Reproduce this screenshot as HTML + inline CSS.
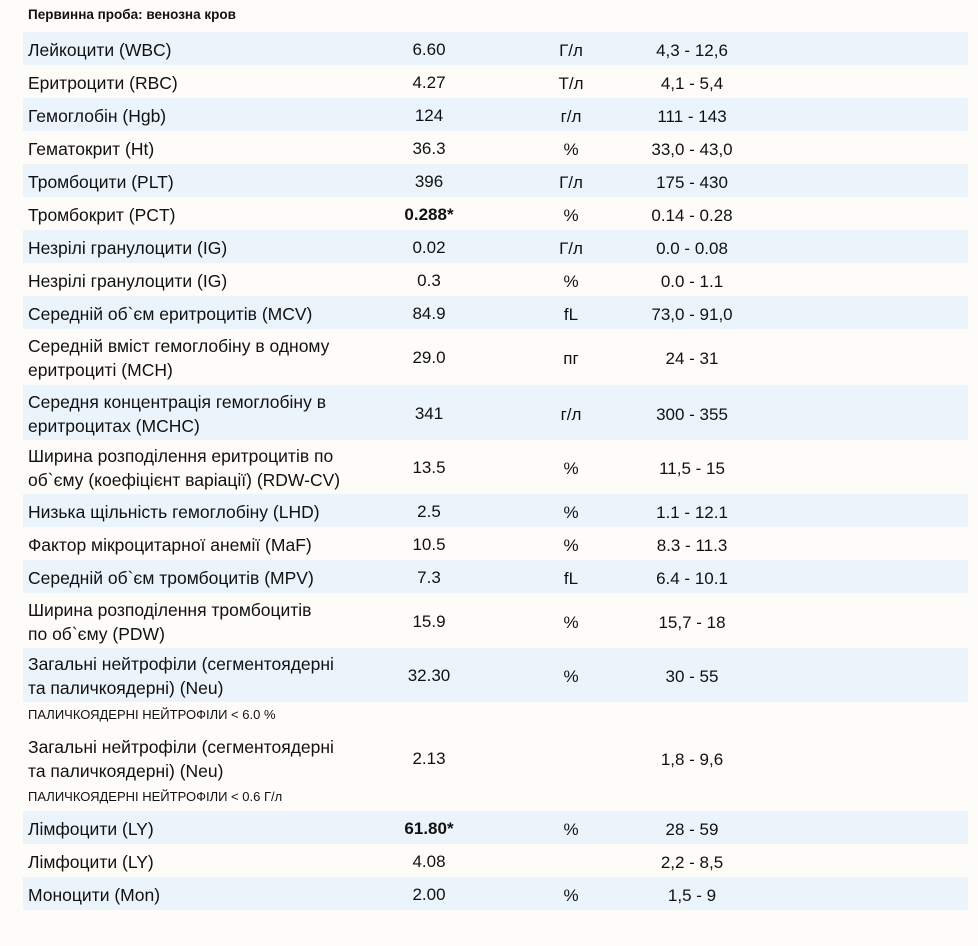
<!DOCTYPE html>
<html><head><meta charset="utf-8"><style>
body{margin:0;width:978px;height:946px;background:#fdfcf9;font-family:"Liberation Sans",sans-serif;color:#111;position:relative;overflow:hidden}
.r{position:absolute;left:23px;width:945px}
.s{background:#ebf4fb}
.n{position:absolute;left:5px;font-size:17.5px;line-height:24px;white-space:nowrap}
.v,.u,.g{position:absolute;font-size:17px;width:140px;text-align:center;line-height:20px}
.v{left:336px}.u{left:478px}.g{left:599px}
.note{position:absolute;left:28px;font-size:13px}
</style></head><body>
<div style="position:absolute;left:28px;top:7px;font-size:13.5px;font-weight:bold">Первинна проба: венозна кров</div>
<div id="t"></div>
<script>
var rows=[
[32,33,1,"Лейкоцити (WBC)","6.60","Г/л","4,3 - 12,6"],
[65,33,0,"Еритроцити (RBC)","4.27","Т/л","4,1 - 5,4"],
[98,33,1,"Гемоглобін (Hgb)","124","г/л","111 - 143"],
[131,33,0,"Гематокрит (Ht)","36.3","%","33,0 - 43,0"],
[164,33,1,"Тромбоцити (PLT)","396","Г/л","175 - 430"],
[197,33,0,"Тромбокрит (PCT)","<b>0.288*</b>","%","0.14 - 0.28"],
[230,33,1,"Незрілі гранулоцити (IG)","0.02","Г/л","0.0 - 0.08"],
[263,33,0,"Незрілі гранулоцити (IG)","0.3","%","0.0 - 1.1"],
[296,33,1,"Середній об`єм еритроцитів (MCV)","84.9","fL","73,0 - 91,0"],
[329,56,0,"Середній вміст гемоглобіну в одному<br>еритроциті (MCH)","29.0","пг","24 - 31"],
[385,55,1,"Середня концентрація гемоглобіну в<br>еритроцитах (MCHC)","341","г/л","300 - 355"],
[440,54,0,"Ширина розподілення еритроцитів по<br>об`єму (коефіцієнт варіації) (RDW-CV)","13.5","%","11,5 - 15"],
[494,33,1,"Низька щільність гемоглобіну (LHD)","2.5","%","1.1 - 12.1"],
[527,33,0,"Фактор мікроцитарної анемії (MaF)","10.5","%","8.3 - 11.3"],
[560,33,1,"Середній об`єм тромбоцитів (MPV)","7.3","fL","6.4 - 10.1"],
[593,55,0,"Ширина розподілення тромбоцитів<br>по об`єму (PDW)","15.9","%","15,7 - 18"],
[648,54,1,"Загальні нейтрофіли (сегментоядерні<br>та паличкоядерні) (Neu)","32.30","%","30 - 55"],
[730,56,0,"Загальні нейтрофіли (сегментоядерні<br>та паличкоядерні) (Neu)","2.13","","1,8 - 9,6"],
[811,33,1,"Лімфоцити (LY)","<b>61.80*</b>","%","28 - 59"],
[844,33,0,"Лімфоцити (LY)","4.08","","2,2 - 8,5"],
[877,33,1,"Моноцити (Mon)","2.00","%","1,5 - 9"]];
var h="";
rows.forEach(function(r){
var lines=r[3].indexOf("<br>")>=0?2:1;
var nt=(r[1]-lines*24)/2+1;
var vt=(r[1]-20)/2+1;
h+='<div class="r'+(r[2]?' s':'')+'" style="top:'+r[0]+'px;height:'+r[1]+'px"><div class="n" style="top:'+nt+'px">'+r[3]+'</div><div class="v" style="top:'+vt+'px">'+r[4]+'</div><div class="u" style="top:'+(vt+1)+'px">'+r[5]+'</div><div class="g" style="top:'+(vt+1)+'px">'+r[6]+'</div></div>';
});
h+='<div class="note" style="top:707px">ПАЛИЧКОЯДЕРНІ НЕЙТРОФІЛИ &lt; 6.0 %</div>';
h+='<div class="note" style="top:789px">ПАЛИЧКОЯДЕРНІ НЕЙТРОФІЛИ &lt; 0.6 Г/л</div>';
document.getElementById("t").innerHTML=h;
</script>
</body></html>
